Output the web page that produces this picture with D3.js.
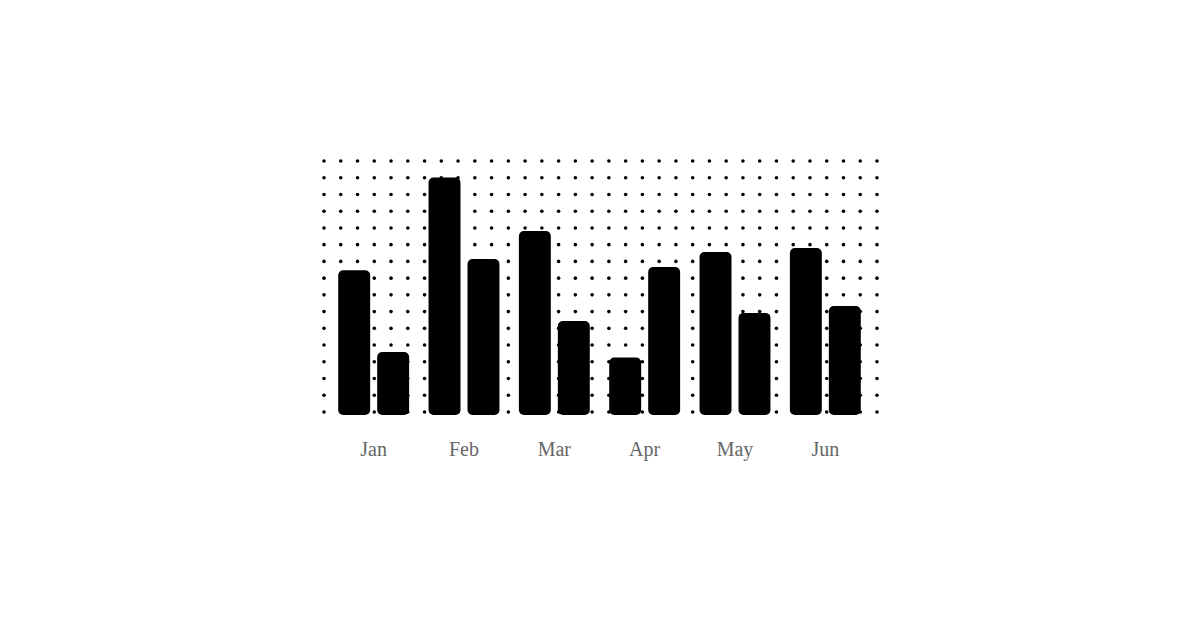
<!DOCTYPE html>
<html>
<head>
<meta charset="utf-8">
<script src="https://cdn.jsdelivr.net/npm/d3@7"></script>
<style>
  html, body { margin: 0; padding: 0; background: #fff; }
</style>
</head>
<body>
<div class="container"></div>
<script>
var width = 1200,
    height = 630;

// data
var months = ["Jan", "Feb", "Mar", "Apr", "May", "Jun"];
var seriesA = [57, 93.5, 72.4, 22.6, 64.2, 65.7];
var seriesB = [24.8, 61.4, 37, 58.3, 40.2, 42.9];
var series = ["a", "b"];

var svg = d3.select('.container')
    .append('svg')
    .attr('xmlns', 'http://www.w3.org/2000/svg')
    .attr('width', width)
    .attr('height', height);

// dotted background grid
var gridCols = d3.range(34),
    gridRows = d3.range(16);
var gx = d3.scaleLinear().domain([0, 33]).range([324, 877]);
var gy = d3.scaleLinear().domain([0, 15]).range([161, 412]);

var x0 = d3.scaleBand()
    .domain(months)
    .range([328.5, 870.5])
    .paddingInner(0.215)
    .paddingOuter(0.1075);

var x1 = d3.scaleBand()
    .domain(series)
    .range([0, x0.bandwidth()])
    .paddingInner(0.18);

var y = d3.scaleLinear()
    .domain([0, 100])
    .range([415, 161]);

var rows = months.map(function (m, i) {
    return {month: m, a: seriesA[i], b: seriesB[i]};
});

svg.append('g').attr('class', 'dots')
    .selectAll('circle')
    .data(d3.cross(gridCols, gridRows))
    .enter().append('circle')
    .attr('cx', function (d) { return gx(d[0]); })
    .attr('cy', function (d) { return gy(d[1]); })
    .attr('r', 1.8)
    .style('fill', '#000');

var groups = svg.append('g').attr('class', 'bars')
    .selectAll('g')
    .data(rows)
    .enter().append('g')
    .attr('transform', function (d) {
        return "translate(" + x0(d.month) + ",0)";
    });

groups.selectAll('rect')
    .data(function (d) {
        return series.map(function (k) { return {key: k, value: d[k]}; });
    })
    .enter().append('rect')
    .attr('x', function (d) { return x1(d.key); })
    .attr('y', function (d) { return y(d.value); })
    .attr('width', x1.bandwidth())
    .attr('height', function (d) { return y(0) - y(d.value); })
    .attr('rx', 5)
    .attr('ry', 5)
    .style('fill', '#000');

// month labels
svg.append('g').attr('class', 'labels')
    .selectAll('text')
    .data(months)
    .enter().append('text')
    .attr('x', function (d) { return x0(d) + x0.bandwidth() / 2; })
    .attr('y', 456)
    .attr('text-anchor', 'middle')
    .style('font-family', '"Liberation Serif", "DejaVu Serif", serif')
    .style('font-size', '20px')
    .style('fill', '#666')
    .text(function (d) { return d; });
</script>
</body>
</html>
